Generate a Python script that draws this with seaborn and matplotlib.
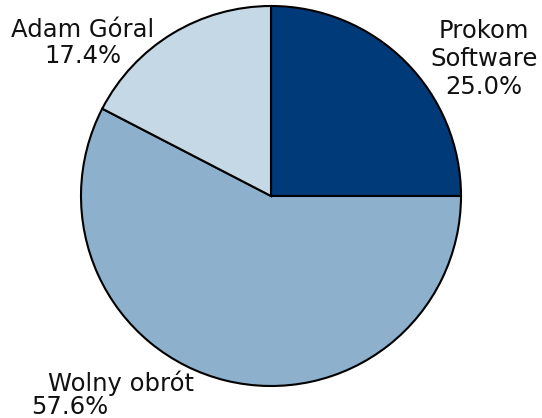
import matplotlib
matplotlib.use('Agg')
import matplotlib.pyplot as plt
import seaborn as sns

# Shareholder structure
holders = ['Prokom\nSoftware', 'Wolny obrót', 'Adam Góral']
shares = [25.0, 57.6, 17.4]
colors = ['#003a78', '#8db0cd', '#c5d8e5']

sns.set_theme(style='white')
plt.rcParams['font.family'] = ['DejaVu Sans']

W, H = 542, 418
fig = plt.figure(figsize=(W / 100, H / 100), dpi=100)
ax = fig.add_axes([0, 0, 1, 1])

ax.pie(shares, colors=colors, startangle=90, counterclock=False,
       center=(271, H - 196), radius=190,
       wedgeprops=dict(edgecolor='black', linewidth=1.5))
ax.set_xlim(0, W)
ax.set_ylim(0, H)
ax.axis('off')

fs = 17.5
ax.text(484, H - 59, '{}\n{:.1f}%'.format(holders[0], shares[0]),
        ha='center', va='center', fontsize=fs, color='#111111', linespacing=1.2)
ax.text(83, H - 43, '{}\n{:.1f}%'.format(holders[2], shares[2]),
        ha='center', va='center', fontsize=fs, color='#111111', linespacing=1.15)
ax.text(121, H - 383, holders[1], ha='center', va='center', fontsize=fs, color='#111111')
ax.text(70, H - 407, '{:.1f}%'.format(shares[1]), ha='center', va='center',
        fontsize=fs, color='#111111')

fig.savefig('out.png', dpi=100)
